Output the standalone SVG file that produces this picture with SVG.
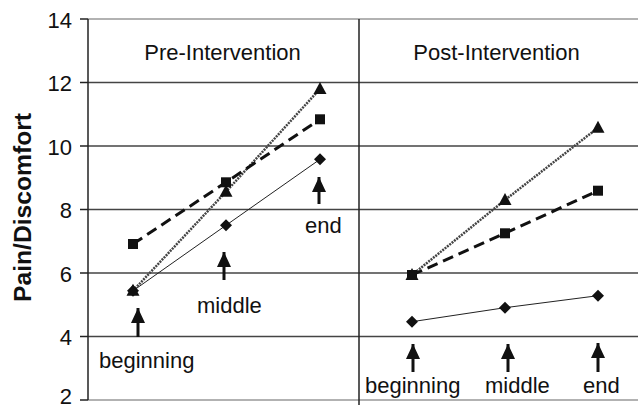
<svg xmlns="http://www.w3.org/2000/svg" width="638" height="409" viewBox="0 0 638 409">
<style>
  text { font-family: "Liberation Sans", Arial, sans-serif; fill: #111; }
  .tick { font-size: 22px; text-anchor: end; }
  .lbl { font-size: 22px; }
  .title { font-size: 22px; text-anchor: middle; }
  .grid { stroke: #444; stroke-width: 1.5; }
  .gridlt { stroke: #999; stroke-width: 1.5; }
  .axis { stroke: #222; stroke-width: 1.5; }
  .tri { fill: none; stroke: #444; stroke-width: 2.5; stroke-dasharray: 2 1; }
  .sq { fill: none; stroke: #111; stroke-width: 3; stroke-dasharray: 11 6; }
  .dia { fill: none; stroke: #222; stroke-width: 1; }
  .mk { fill: #111; }
  .arrow { stroke: #111; stroke-width: 3; marker-end: url(#ah); }
</style>
<defs>
  <marker id="ah" markerUnits="userSpaceOnUse" markerWidth="16" markerHeight="16" viewBox="0 0 16 16" refX="15" refY="8" orient="auto">
    <path d="M0,1 L15,8 L0,15 Z" fill="#111"/>
  </marker>
  <rect id="msq" x="-5" y="-5" width="10" height="10"/>
  <path id="mdia" d="M0,-6 L6,0 L0,6 L-6,0 Z"/>
  <path id="mtri" d="M0,-7 L6.5,5 L-6.5,5 Z"/>
</defs>

<g id="grid">
  <line class="gridlt" x1="88" y1="19" x2="638" y2="19"/>
  <line class="grid" x1="88" y1="82.5" x2="638" y2="82.5"/>
  <line class="grid" x1="88" y1="146" x2="638" y2="146"/>
  <line class="grid" x1="88" y1="209.5" x2="638" y2="209.5"/>
  <line class="grid" x1="88" y1="273" x2="638" y2="273"/>
  <line class="grid" x1="88" y1="336.5" x2="638" y2="336.5"/>
  <line class="gridlt" x1="88" y1="400" x2="638" y2="400"/>
  <line class="axis" x1="88" y1="19" x2="88" y2="400"/>
  <line class="axis" x1="359" y1="19" x2="359" y2="405"/>
  <g class="axis">
    <line x1="80" y1="19" x2="88" y2="19"/>
    <line x1="80" y1="82.5" x2="88" y2="82.5"/>
    <line x1="80" y1="146" x2="88" y2="146"/>
    <line x1="80" y1="209.5" x2="88" y2="209.5"/>
    <line x1="80" y1="273" x2="88" y2="273"/>
    <line x1="80" y1="336.5" x2="88" y2="336.5"/>
    <line x1="80" y1="400" x2="88" y2="400"/>
  </g>
</g>

<g id="axis-labels">
  <text class="tick" x="72" y="27.5">14</text>
  <text class="tick" x="72" y="91">12</text>
  <text class="tick" x="72" y="154.5">10</text>
  <text class="tick" x="72" y="218">8</text>
  <text class="tick" x="72" y="281.5">6</text>
  <text class="tick" x="72" y="345">4</text>
  <text class="tick" x="72" y="403.5">2</text>
  <text x="0" y="0" transform="translate(30.5,207.5) rotate(-90)" text-anchor="middle" font-size="23" font-weight="bold" textLength="189" lengthAdjust="spacingAndGlyphs">Pain/Discomfort</text>
</g>

<g id="titles">
  <text class="title" x="222.5" y="60">Pre-Intervention</text>
  <text class="title" x="496.5" y="60">Post-Intervention</text>
</g>

<g id="connectors">
  <polyline class="tri" points="133,290.8 226,191.7 320,88.9"/>
  <polyline class="sq" points="133,244 226,182.3 320,119.3"/>
  <polyline class="dia" points="133,290.8 226,225.3 320,159.3"/>
  <polyline class="tri" points="412,275 505,200 598,127.7"/>
  <polyline class="sq" points="412,275 505,233.3 598,190.7"/>
  <polyline class="dia" points="412,321.7 505,307.7 598,295.7"/>
</g>

<g id="markers" class="mk">
  <use href="#mdia" x="133" y="290.8"/>
  <use href="#mdia" x="226" y="225.3"/>
  <use href="#mdia" x="320" y="159.3"/>
  <use href="#msq" x="133" y="244"/>
  <use href="#msq" x="226" y="182.3"/>
  <use href="#msq" x="320" y="119.3"/>
  <use href="#mtri" x="133" y="290.8"/>
  <use href="#mtri" x="226" y="191.7"/>
  <use href="#mtri" x="320" y="88.9"/>
  <use href="#mdia" x="412" y="321.7"/>
  <use href="#mdia" x="505" y="307.7"/>
  <use href="#mdia" x="598" y="295.7"/>
  <use href="#msq" x="412" y="275"/>
  <use href="#msq" x="505" y="233.3"/>
  <use href="#msq" x="598" y="190.7"/>
  <use href="#mtri" x="412" y="275"/>
  <use href="#mtri" x="505" y="200"/>
  <use href="#mtri" x="598" y="127.7"/>
</g>

<g id="annotations">
  <line class="arrow" x1="138" y1="337" x2="138" y2="308"/>
  <line class="arrow" x1="224" y1="280" x2="224" y2="252"/>
  <line class="arrow" x1="319" y1="204" x2="319" y2="177"/>
  <line class="arrow" x1="413" y1="372" x2="413" y2="344"/>
  <line class="arrow" x1="508" y1="372" x2="508" y2="344"/>
  <line class="arrow" x1="598" y1="372" x2="598" y2="343"/>
  <text class="lbl" x="99" y="368">beginning</text>
  <text class="lbl" x="197" y="313">middle</text>
  <text class="lbl" x="305" y="233">end</text>
  <text class="lbl" x="365" y="393">beginning</text>
  <text class="lbl" x="485" y="393">middle</text>
  <text class="lbl" x="583" y="393">end</text>
</g>
</svg>
